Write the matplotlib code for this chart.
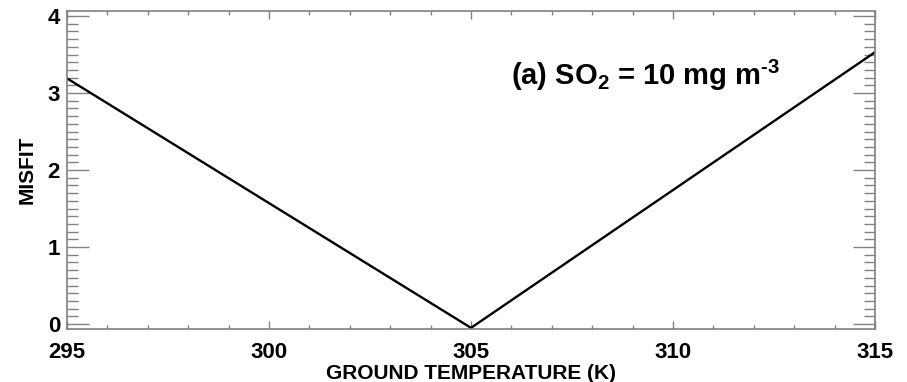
import matplotlib
matplotlib.use("Agg")
import matplotlib.pyplot as plt
from matplotlib.ticker import MultipleLocator

# Misfit as a function of assumed ground temperature
temperature = [295, 305, 315]
misfit = [3.19, -0.05, 3.53]

x_ticks = [295, 300, 305, 310, 315]
y_ticks = [0, 1, 2, 3, 4]

plt.rcParams['font.family'] = ['Liberation Sans', 'DejaVu Sans']
plt.rcParams['font.weight'] = 'bold'
plt.rcParams['mathtext.fontset'] = 'custom'
plt.rcParams['mathtext.rm'] = 'Liberation Sans:bold'
plt.rcParams['mathtext.bf'] = 'Liberation Sans:bold'
plt.rcParams['mathtext.default'] = 'bf'

fig = plt.figure(figsize=(9.07, 3.82), dpi=100)
ax = fig.add_axes([0.0739, 0.1387, 0.8908, 0.8325])

ax.plot(temperature, misfit, color='black', lw=1.7)

ax.set_xlim(295, 315)
ax.set_ylim(-0.065, 4.065)
ax.set_xticks(x_ticks)
ax.set_xticklabels([str(t) for t in x_ticks])
ax.set_yticks(y_ticks)
ax.set_yticklabels([str(t) for t in y_ticks])
ax.xaxis.set_minor_locator(MultipleLocator(1))
ax.yaxis.set_minor_locator(MultipleLocator(0.1))

spine_col = '#808080'
for s in ax.spines.values():
    s.set_color(spine_col)
    s.set_linewidth(1.2)

ax.tick_params(axis='x', which='major', direction='in', length=6, width=1,
               color=spine_col, top=True, bottom=True, labelsize=16, pad=9)
ax.tick_params(axis='x', which='minor', direction='in', length=3, width=1,
               color=spine_col, top=True, bottom=True)
ax.tick_params(axis='y', which='major', direction='in', length=16, width=1,
               color=spine_col, left=True, right=True, labelsize=16, pad=5)
ax.tick_params(axis='y', which='minor', direction='in', length=8, width=1,
               color=spine_col, left=True, right=True)
for lab in ax.get_xticklabels() + ax.get_yticklabels():
    lab.set_fontweight('bold')

ax.set_xlabel('GROUND TEMPERATURE (K)', fontsize=15, fontweight='bold', labelpad=1)
ax.set_ylabel('MISFIT', fontsize=15, fontweight='bold', labelpad=8)

ax.text(306.0, 3.23, r'(a) SO$_{2}$ = 10 mg m$^{\text{-3}}$',
        fontsize=21, fontweight='bold', ha='left', va='center')

fig.savefig('out.png', dpi=100)
